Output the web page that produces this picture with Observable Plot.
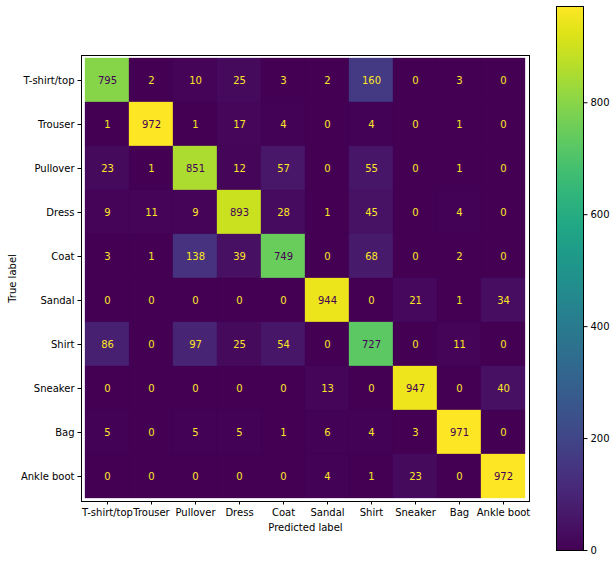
<!DOCTYPE html>
<html>
<head>
<meta charset="utf-8">
<script src="https://cdn.jsdelivr.net/npm/d3@7"></script>
<script src="https://cdn.jsdelivr.net/npm/@observablehq/plot@0.6"></script>
<style>
  html, body { margin: 0; padding: 0; background: white; }
  #wrap { position: relative; width: 616px; height: 563px; }
  #wrap svg { position: absolute; left: 0; top: 0; }
</style>
</head>
<body>
<div id="wrap"></div>
<script>
const labels = ["T-shirt/top", "Trouser", "Pullover", "Dress", "Coat", "Sandal", "Shirt", "Sneaker", "Bag", "Ankle boot"];
const rowTshirt   = [795, 2, 10, 25, 3, 2, 160, 0, 3, 0];
const rowTrouser  = [1, 972, 1, 17, 4, 0, 4, 0, 1, 0];
const rowPullover = [23, 1, 851, 12, 57, 0, 55, 0, 1, 0];
const rowDress    = [9, 11, 9, 893, 28, 1, 45, 0, 4, 0];
const rowCoat     = [3, 1, 138, 39, 749, 0, 68, 0, 2, 0];
const rowSandal   = [0, 0, 0, 0, 0, 944, 0, 21, 1, 34];
const rowShirt    = [86, 0, 97, 25, 54, 0, 727, 0, 11, 0];
const rowSneaker  = [0, 0, 0, 0, 0, 13, 0, 947, 0, 40];
const rowBag      = [5, 0, 5, 5, 1, 6, 4, 3, 971, 0];
const rowAnkle    = [0, 0, 0, 0, 0, 4, 1, 23, 0, 972];
const colorbarTicks = [0, 200, 400, 600, 800];

const rows = [rowTshirt, rowTrouser, rowPullover, rowDress, rowCoat, rowSandal, rowShirt, rowSneaker, rowBag, rowAnkle];
const data = [];
rows.forEach((r, i) => r.forEach((v, j) => data.push({ trueLabel: labels[i], pred: labels[j], value: v })));
const vmin = d3.min(data, d => d.value), vmax = d3.max(data, d => d.value);
const thresh = (vmin + vmax) / 2;

const font = { fontFamily: "DejaVu Sans, sans-serif", fontSize: "10px", color: "#000", background: "transparent" };

const main = Plot.plot({
  width: 616, height: 563,
  marginLeft: 81, marginRight: 87, marginTop: 55, marginBottom: 62,
  style: font,
  x: { domain: labels, padding: 0, label: "Predicted label", labelAnchor: "center", labelOffset: 29, tickSize: 3.5, tickPadding: 3.5 },
  y: { domain: labels, padding: 0, label: "True label", labelAnchor: "center", labelOffset: 73, tickSize: 3.5, tickPadding: 3.5 },
  color: { type: "linear", scheme: "viridis", domain: [vmin, vmax] },
  marks: [
    Plot.cell(data, { x: "pred", y: "trueLabel", fill: "value", inset: 0, stroke: "value", strokeWidth: 0.3 }),
    Plot.text(data.filter(d => d.value < thresh), { x: "pred", y: "trueLabel", text: d => String(d.value), fill: "#fde725" }),
    Plot.text(data.filter(d => d.value >= thresh), { x: "pred", y: "trueLabel", text: d => String(d.value), fill: "#440154" }),
    Plot.frame({ stroke: "#000", strokeWidth: 1 })
  ]
});

const cb = Plot.plot({
  width: 616, height: 563,
  marginLeft: 556, marginRight: 33, marginTop: 6, marginBottom: 13,
  style: font,
  x: { domain: [0, 1], axis: null },
  y: { domain: [vmin, vmax], axis: "right", ticks: colorbarTicks, tickFormat: d => String(d), tickSize: 3.5, tickPadding: 3.5, label: null, grid: false },
  marks: [
    Plot.rect([{}], { x1: 0, x2: 1, y1: vmin, y2: vmax, fill: "url(#cbgrad)" }),
    Plot.frame({ stroke: "#000", strokeWidth: 1 })
  ]
});

// gradient for the colorbar, built from the same viridis interpolator
const ns = "http://www.w3.org/2000/svg";
const defs = document.createElementNS(ns, "defs");
const grad = document.createElementNS(ns, "linearGradient");
grad.setAttribute("id", "cbgrad");
grad.setAttribute("x1", "0"); grad.setAttribute("y1", "1");
grad.setAttribute("x2", "0"); grad.setAttribute("y2", "0");
for (let k = 0; k <= 20; k++) {
  const s = document.createElementNS(ns, "stop");
  s.setAttribute("offset", (k / 20).toString());
  s.setAttribute("stop-color", d3.interpolateViridis(k / 20));
  grad.appendChild(s);
}
defs.appendChild(grad);
cb.insertBefore(defs, cb.firstChild);

const wrap = document.getElementById("wrap");
wrap.appendChild(main);
wrap.appendChild(cb);
</script>
</body>
</html>
